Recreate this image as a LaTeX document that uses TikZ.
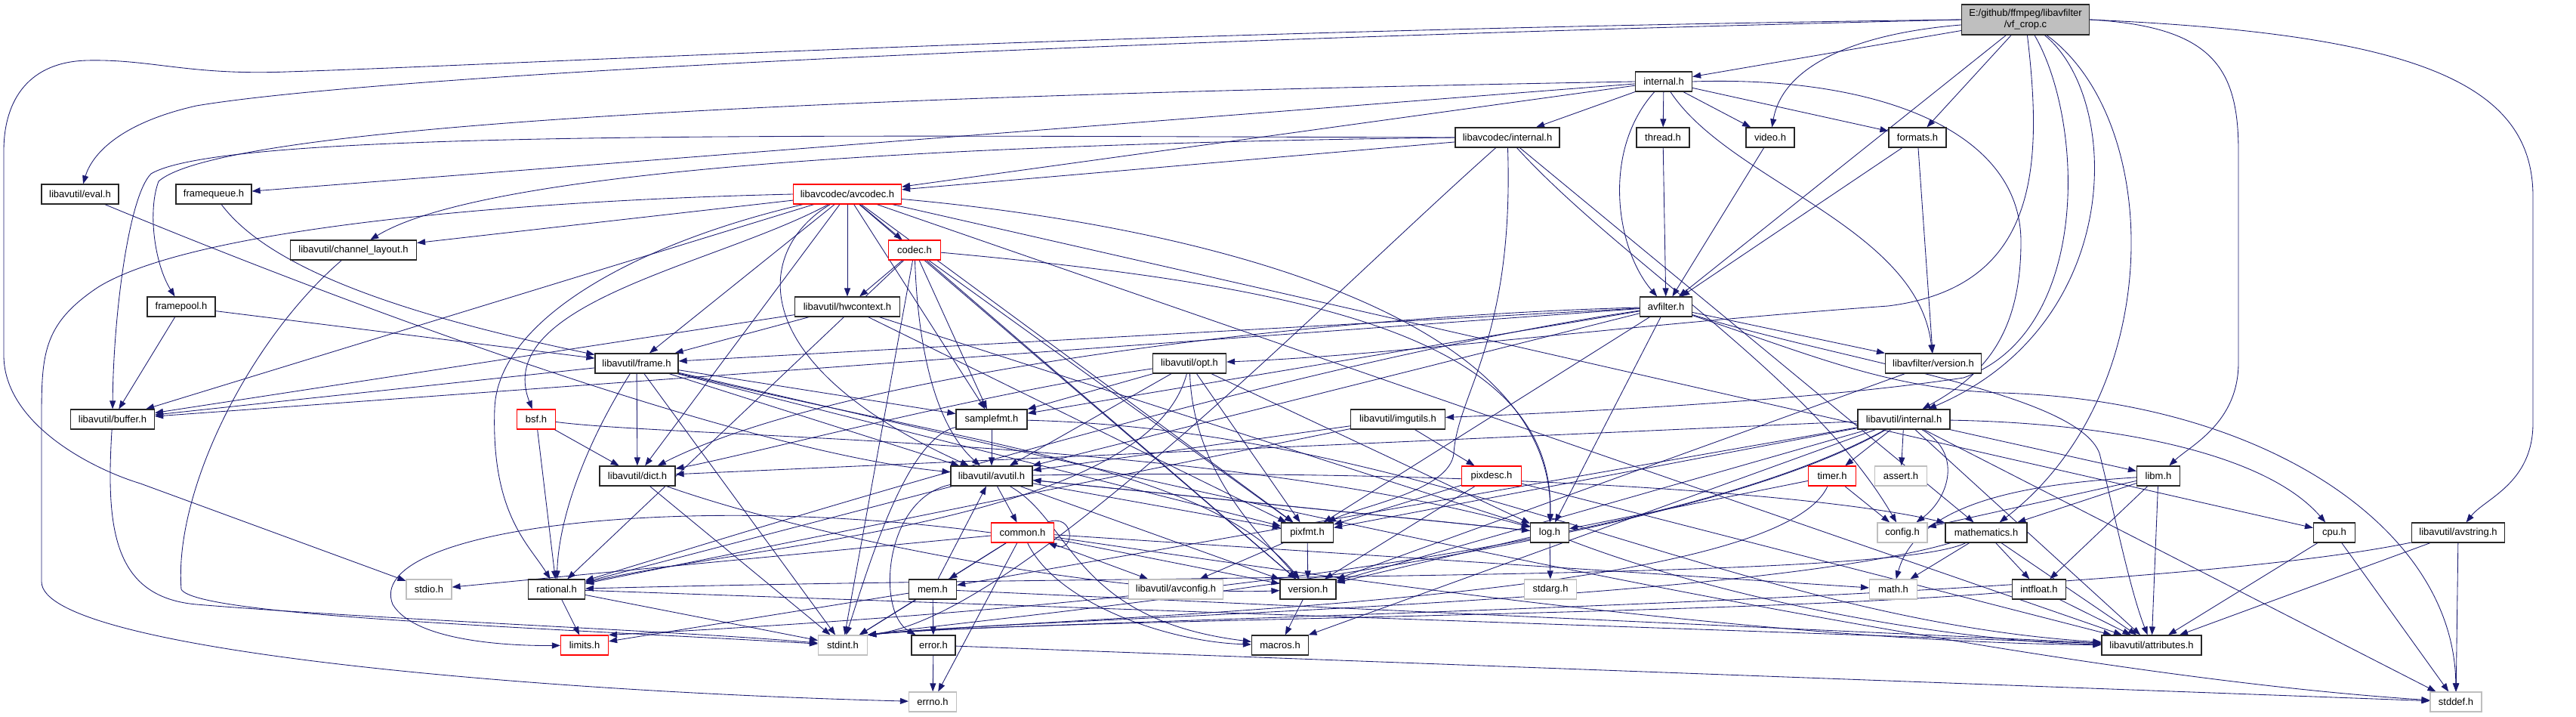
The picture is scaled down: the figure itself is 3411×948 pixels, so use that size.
\documentclass[tikz,border=0pt]{standalone}
\usepackage{fontspec}
\setmainfont{Liberation Sans}
\usetikzlibrary{arrows.meta}
\definecolor{depblue}{HTML}{191970}
\definecolor{sysgrey}{HTML}{BFBFBF}
\pgfdeclarelayer{background}
\pgfsetlayers{background,main}
\tikzset{
  dep/.style={-{Triangle[length=11pt,width=8pt]}, draw=depblue, line width=0.85pt},
  hfile/.style={draw=black!85, line width=1.2pt, fill=white, minimum height=26pt, inner sep=0pt, font=\fontsize{13}{15}\selectfont},
  redfile/.style={hfile, draw=red},
  sysfile/.style={hfile, draw=sysgrey},
  srcfile/.style={hfile, fill=sysgrey, minimum height=40pt, align=center}
}

\begin{document}
\begin{tikzpicture}[x=1pt, y=-1pt]
  \useasboundingbox (0,0) rectangle (3411,948);
  \node[srcfile, minimum width=169pt] (root) at (2682,26) {E:/github/ffmpeg/libavfilter\\/vf\_crop.c};
  \node[hfile, minimum width=75pt] (fint) at (2203,108) {internal.h};
  \node[hfile, minimum width=102pt] (eval) at (106,257) {libavutil/eval.h};
  \node[hfile, minimum width=100pt] (fqueue) at (283,257) {framequeue.h};
  \node[hfile, minimum width=138pt] (lavcint) at (1996,182) {libavcodec/internal.h};
  \node[hfile, minimum width=70pt] (thread) at (2202,182) {thread.h};
  \node[hfile, minimum width=64pt] (video) at (2344,182) {video.h};
  \node[hfile, minimum width=76pt] (formats) at (2539,182) {formats.h};
  \node[redfile, minimum width=143pt] (avcodec) at (1122,257) {libavcodec/avcodec.h};
  \node[hfile, minimum width=167pt] (chlayout) at (468,331) {libavutil/channel\_layout.h};
  \node[redfile, minimum width=69pt] (codec) at (1211,331) {codec.h};
  \node[hfile, minimum width=90pt] (fpool) at (240,406) {framepool.h};
  \node[hfile, minimum width=139pt] (hwctx) at (1122,406) {libavutil/hwcontext.h};
  \node[hfile, minimum width=69pt] (avfilter) at (2206,406) {avfilter.h};
  \node[hfile, minimum width=110pt] (frame) at (843,481) {libavutil/frame.h};
  \node[hfile, minimum width=97pt] (opt) at (1575,481) {libavutil/opt.h};
  \node[hfile, minimum width=127pt] (fversion) at (2560,481) {libavfilter/version.h};
  \node[hfile, minimum width=111pt] (buffer) at (149,555) {libavutil/buffer.h};
  \node[redfile, minimum width=51pt] (bsf) at (710,555) {bsf.h};
  \node[hfile, minimum width=94pt] (samplefmt) at (1313,555) {samplefmt.h};
  \node[hfile, minimum width=125pt] (imgutils) at (1851,555) {libavutil/imgutils.h};
  \node[hfile, minimum width=122pt] (uinternal) at (2521,555) {libavutil/internal.h};
  \node[hfile, minimum width=100pt] (dict) at (844,630) {libavutil/dict.h};
  \node[hfile, minimum width=108pt] (avutil) at (1313,630) {libavutil/avutil.h};
  \node[redfile, minimum width=79pt] (pixdesc) at (1975,630) {pixdesc.h};
  \node[redfile, minimum width=63pt] (timer) at (2426,630) {timer.h};
  \node[sysfile, minimum width=69pt] (asserth) at (2517,630) {assert.h};
  \node[hfile, minimum width=57pt] (libm) at (2858,630) {libm.h};
  \node[redfile, minimum width=83pt] (common) at (1354,705) {common.h};
  \node[hfile, minimum width=69pt] (pixfmt) at (1731,705) {pixfmt.h};
  \node[hfile, minimum width=51pt] (log) at (2052,705) {log.h};
  \node[sysfile, minimum width=66pt] (config) at (2519,705) {config.h};
  \node[hfile, minimum width=108pt] (mathem) at (2630,705) {mathematics.h};
  \node[hfile, minimum width=55pt] (cpu) at (3091,705) {cpu.h};
  \node[hfile, minimum width=123pt] (avstring) at (3255,705) {libavutil/avstring.h};
  \node[sysfile, minimum width=60pt] (stdio) at (568,780) {stdio.h};
  \node[hfile, minimum width=75pt] (rational) at (737,780) {rational.h};
  \node[hfile, minimum width=63pt] (mem) at (1235,780) {mem.h};
  \node[sysfile, minimum width=125pt] (avconfig) at (1557,780) {libavutil/avconfig.h};
  \node[hfile, minimum width=74pt] (version) at (1732,780) {version.h};
  \node[sysfile, minimum width=69pt] (stdarg) at (2053,780) {stdarg.h};
  \node[sysfile, minimum width=63pt] (mathh) at (2507,780) {math.h};
  \node[hfile, minimum width=71pt] (intfloat) at (2700,780) {intfloat.h};
  \node[redfile, minimum width=63pt] (limits) at (774,854) {limits.h};
  \node[sysfile, minimum width=65pt] (stdint) at (1116,854) {stdint.h};
  \node[hfile, minimum width=58pt] (error) at (1236,854) {error.h};
  \node[hfile, minimum width=75pt] (macros) at (1695,854) {macros.h};
  \node[hfile, minimum width=132pt] (attrib) at (2849,854) {libavutil/attributes.h};
  \node[sysfile, minimum width=63pt] (errno) at (1235,929) {errno.h};
  \node[sysfile, minimum width=68pt] (stddef) at (3252,929) {stddef.h};
  \begin{pgfonlayer}{background}
  \fill[white] (0,0) rectangle (3411,948);
  \draw[dep] (root.west) .. controls (1500,40) and (700,85) .. (380,95) .. controls (250,100) and (200,78) .. (115,80) .. controls (40,82) and (5,130) .. (5,200) -- (5,470) .. controls (5,560) and (120,620) .. (186,640) -- (stdio);
  \draw[dep] (root.west) .. controls (1400,55) and (500,100) .. (260,140) .. controls (150,165) and (120,210) .. (eval);
  \draw[dep] (root) -- (fint);
  \draw[dep] (root) .. controls (2450,45) and (2360,90) .. (video);
  \draw[dep] (root) -- (formats);
  \draw[dep] (root) -- (avfilter);
  \draw[dep] (root) .. controls (2705,220) and (2700,380) .. (2500,405) .. controls (2150,430) and (1850,470) .. (opt);
  \draw[dep] (root) .. controls (2760,160) and (2770,440) .. (2600,500) .. controls (2400,530) and (2100,545) .. (imgutils);
  \draw[dep] (root) .. controls (2810,130) and (2815,430) .. (uinternal);
  \draw[dep] (root) .. controls (2865,160) and (2870,520) .. (mathem);
  \draw[dep] (root.east) .. controls (2930,35) and (2964,90) .. (2964,200) -- (2964,480) .. controls (2964,560) and (2900,590) .. (libm);
  \draw[dep] (root.east) .. controls (3200,45) and (3354,110) .. (3354,260) -- (3354,560) .. controls (3354,640) and (3290,660) .. (avstring);
  \draw[dep] (fint) -- (lavcint);
  \draw[dep] (fint) -- (thread);
  \draw[dep] (fint) -- (video);
  \draw[dep] (fint) -- (formats);
  \draw[dep] (fint) .. controls (2120,200) and (2140,330) .. (avfilter);
  \draw[dep] (fint) .. controls (2290,240) and (2540,300) .. (fversion);
  \draw[dep] (fint.east) .. controls (2480,100) and (2676,170) .. (2676,320) .. controls (2676,450) and (2620,500) .. (uinternal);
  \draw[dep] (fint.west) .. controls (1200,125) and (300,160) .. (210,240) .. controls (195,280) and (205,350) .. (fpool);
  \draw[dep] (fint) -- (fqueue);
  \draw[dep] (fint) -- (avcodec);
  \draw[dep] (eval) .. controls (500,420) and (1000,600) .. (avutil);
  \draw[dep] (fqueue) .. controls (360,360) and (550,420) .. (frame);
  \draw[dep] (fpool) -- (buffer);
  \draw[dep] (fpool) -- (frame);
  \draw[dep] (thread) -- (avfilter);
  \draw[dep] (video) -- (avfilter);
  \draw[dep] (formats) -- (avfilter);
  \draw[dep] (formats) -- (fversion);
  \draw[dep] (lavcint) -- (avcodec);
  \draw[dep] (lavcint.west) .. controls (1300,190) and (650,220) .. (chlayout);
  \draw[dep] (lavcint.west) .. controls (1100,180) and (300,170) .. (200,230) .. controls (170,260) and (150,420) .. (buffer);
  \draw[dep] (lavcint) .. controls (2005,450) and (1930,520) .. (1925,600) .. controls (1920,650) and (1800,670) .. (pixfmt);
  \draw[dep] (lavcint) -- (mathem);
  \draw[dep] (lavcint) .. controls (2150,350) and (2400,500) .. (config);
  \draw[dep] (lavcint) .. controls (1750,400) and (1350,815) .. (stdint.north east);
  \draw[dep] (avcodec.west) .. controls (700,265) and (260,300) .. (130,380) .. controls (55,430) and (55,470) .. (55,560) -- (55,770) .. controls (55,860) and (700,915) .. (errno);
  \draw[dep] (avcodec) -- (samplefmt);
  \draw[dep] (avcodec) -- (attrib);
  \draw[dep] (avcodec) .. controls (1000,330) and (980,480) .. (avutil);
  \draw[dep] (avcodec) -- (buffer);
  \draw[dep] (avcodec) -- (cpu);
  \draw[dep] (avcodec) -- (chlayout);
  \draw[dep] (avcodec) -- (dict);
  \draw[dep] (avcodec) -- (frame);
  \draw[dep] (avcodec) -- (hwctx);
  \draw[dep] (avcodec) .. controls (1600,300) and (2060,420) .. (log);
  \draw[dep] (avcodec) -- (pixfmt);
  \draw[dep] (avcodec) .. controls (850,320) and (660,420) .. (655,540) .. controls (650,680) and (700,720) .. (rational);
  \draw[dep] (avcodec) .. controls (950,350) and (650,400) .. (bsf);
  \draw[dep] (avcodec) -- (codec);
  \draw[dep] (avcodec) -- (version);
  \draw[dep] (chlayout) .. controls (330,450) and (230,650) .. (240,780) .. controls (260,815) and (700,830) .. (stdint);
  \draw[dep] (codec) -- (stdint);
  \draw[dep] (codec) .. controls (1215,450) and (1235,560) .. (avutil);
  \draw[dep] (codec) -- (hwctx);
  \draw[dep] (codec) .. controls (1750,380) and (2060,450) .. (log);
  \draw[dep] (codec) -- (pixfmt);
  \draw[dep] (codec) -- (rational);
  \draw[dep] (codec) -- (samplefmt);
  \draw[dep] (codec) -- (version);
  \draw[dep] (hwctx) -- (buffer);
  \draw[dep] (hwctx) -- (frame);
  \draw[dep] (hwctx) -- (log);
  \draw[dep] (hwctx) -- (pixfmt);
  \draw[dep] (avfilter) .. controls (2400,470) and (2500,515) .. (2650,520) .. controls (3000,530) and (3250,700) .. (stddef);
  \draw[dep] (avfilter) .. controls (2450,480) and (2750,520) .. (2780,600) .. controls (2800,680) and (2820,780) .. (attrib);
  \draw[dep] (avfilter) -- (avutil);
  \draw[dep] (avfilter) -- (buffer);
  \draw[dep] (avfilter) .. controls (1700,420) and (1100,500) .. (dict);
  \draw[dep] (avfilter) -- (frame);
  \draw[dep] (avfilter) -- (log);
  \draw[dep] (avfilter) -- (samplefmt);
  \draw[dep] (avfilter) -- (pixfmt);
  \draw[dep] (avfilter) .. controls (1700,480) and (1000,700) .. (rational);
  \draw[dep] (avfilter) -- (fversion);
  \draw[dep] (frame) .. controls (1200,560) and (2500,880) .. (stddef);
  \draw[dep] (frame) -- (stdint);
  \draw[dep] (frame) -- (avutil);
  \draw[dep] (frame) -- (buffer);
  \draw[dep] (frame) -- (dict);
  \draw[dep] (frame) .. controls (780,580) and (740,680) .. (rational);
  \draw[dep] (frame) -- (samplefmt);
  \draw[dep] (frame) -- (pixfmt);
  \draw[dep] (frame) .. controls (1300,590) and (1600,620) .. (version);
  \draw[dep] (opt) .. controls (1520,690) and (1000,720) .. (rational);
  \draw[dep] (opt) -- (avutil);
  \draw[dep] (opt) .. controls (1300,520) and (1000,600) .. (dict);
  \draw[dep] (opt) -- (log);
  \draw[dep] (opt) -- (pixfmt);
  \draw[dep] (opt) -- (samplefmt);
  \draw[dep] (opt) .. controls (1580,620) and (1660,700) .. (version);
  \draw[dep] (fversion) -- (version);
  \draw[dep] (buffer) .. controls (140,700) and (150,790) .. (260,800) .. controls (500,820) and (900,835) .. (stdint);
  \draw[dep] (bsf) -- (dict);
  \draw[dep] (bsf) -- (rational);
  \draw[dep] (bsf) .. controls (900,580) and (1600,580) .. (log);
  \draw[dep] (samplefmt) .. controls (1200,580) and (1150,750) .. (stdint);
  \draw[dep] (samplefmt) -- (avutil);
  \draw[dep] (samplefmt) .. controls (1900,570) and (2300,820) .. (attrib);
  \draw[dep] (imgutils) -- (avutil);
  \draw[dep] (imgutils) -- (pixdesc);
  \draw[dep] (imgutils) -- (rational);
  \draw[dep] (uinternal) .. controls (2150,760) and (1200,820) .. (limits.north east);
  \draw[dep] (uinternal) .. controls (2200,740) and (1300,818) .. (stdint.north east);
  \draw[dep] (uinternal) -- (stddef);
  \draw[dep] (uinternal) -- (asserth);
  \draw[dep] (uinternal) .. controls (2600,600) and (2580,660) .. (config);
  \draw[dep] (uinternal) -- (attrib);
  \draw[dep] (uinternal) -- (timer);
  \draw[dep] (uinternal) .. controls (2800,560) and (3000,600) .. (cpu);
  \draw[dep] (uinternal) -- (dict);
  \draw[dep] (uinternal) -- (macros);
  \draw[dep] (uinternal) -- (mem);
  \draw[dep] (uinternal) -- (pixfmt);
  \draw[dep] (uinternal) -- (version);
  \draw[dep] (uinternal) -- (libm);
  \draw[dep] (dict) -- (stdint);
  \draw[dep] (dict) .. controls (1100,720) and (1500,790) .. (version);
  \draw[dep] (avutil) -- (common);
  \draw[dep] (avutil) .. controls (1170,660) and (1160,810) .. (error);
  \draw[dep] (avutil) -- (rational);
  \draw[dep] (avutil) -- (version);
  \draw[dep] (avutil) .. controls (1420,690) and (1420,820) .. (macros);
  \draw[dep] (avutil) .. controls (1900,620) and (2400,650) .. (mathem);
  \draw[dep] (avutil) -- (log);
  \draw[dep] (avutil) -- (pixfmt);
  \draw[dep] (pixdesc) -- (attrib);
  \draw[dep] (pixdesc) -- (pixfmt);
  \draw[dep] (pixdesc) -- (version);
  \draw[dep] (timer) -- (config);
  \draw[dep] (timer) -- (log);
  \draw[dep] (timer) .. controls (2350,800) and (1400,815) .. (stdint.north east);
  \draw[dep] (libm) .. controls (2700,640) and (2540,660) .. (mathh);
  \draw[dep] (libm) -- (config);
  \draw[dep] (libm) -- (attrib);
  \draw[dep] (libm) -- (intfloat);
  \draw[dep] (libm) -- (mathem);
  \draw[dep] (common) -- (errno);
  \draw[dep] (common.west) .. controls (900,650) and (480,700) .. (520,800) .. controls (550,850) and (680,855) .. (limits);
  \draw[dep] (common) -- (mathh);
  \draw[dep] (common) -- (stdint);
  \draw[dep] (common) -- (stdio);
  \draw[dep] (common) .. controls (1600,740) and (2300,850) .. (attrib);
  \draw[dep] (common) .. controls (1400,800) and (1550,850) .. (macros);
  \draw[dep] (common) -- (version);
  \draw[dep] (common) -- (avconfig);
  \draw[dep] ([xshift=-10pt]common.north east) .. controls ([xshift=28pt,yshift=14pt]common.north east) and ([xshift=28pt,yshift=-14pt]common.south east) .. ([xshift=-8pt]common.south east);
  \draw[dep] (common) -- (mem);
  \draw[dep] (mem) -- (attrib);
  \draw[dep] (mem) -- (error);
  \draw[dep] (mem) -- (avutil);
  \draw[dep] (mem) -- (limits);
  \draw[dep] (mem) -- (stdint);
  \draw[dep] (error) -- (errno);
  \draw[dep] (error) -- (stddef);
  \draw[dep] (rational) -- (stdint);
  \draw[dep] (rational) -- (limits);
  \draw[dep] (rational) -- (attrib);
  \draw[dep] (version) -- (macros);
  \draw[dep] (log) -- (stdarg);
  \draw[dep] (log) -- (avutil);
  \draw[dep] (log) .. controls (2300,800) and (2600,850) .. (attrib);
  \draw[dep] (log) -- (version);
  \draw[dep] (pixfmt) -- (avconfig);
  \draw[dep] (pixfmt) -- (version);
  \draw[dep] (mathem) .. controls (2300,800) and (1350,818) .. (stdint.north east);
  \draw[dep] (mathem) -- (mathh);
  \draw[dep] (mathem) -- (attrib);
  \draw[dep] (mathem) .. controls (2500,770) and (1500,760) .. (rational);
  \draw[dep] (mathem) -- (intfloat);
  \draw[dep] (intfloat) .. controls (2300,815) and (1350,820) .. (stdint.north east);
  \draw[dep] (intfloat) -- (attrib);
  \draw[dep] (cpu) -- (stddef);
  \draw[dep] (cpu) -- (attrib);
  \draw[dep] (avstring) -- (stddef);
  \draw[dep] (avstring) .. controls (2800,800) and (1350,820) .. (stdint.north east);
  \draw[dep] (avstring) -- (attrib);
  \end{pgfonlayer}
\end{tikzpicture}
\end{document}
